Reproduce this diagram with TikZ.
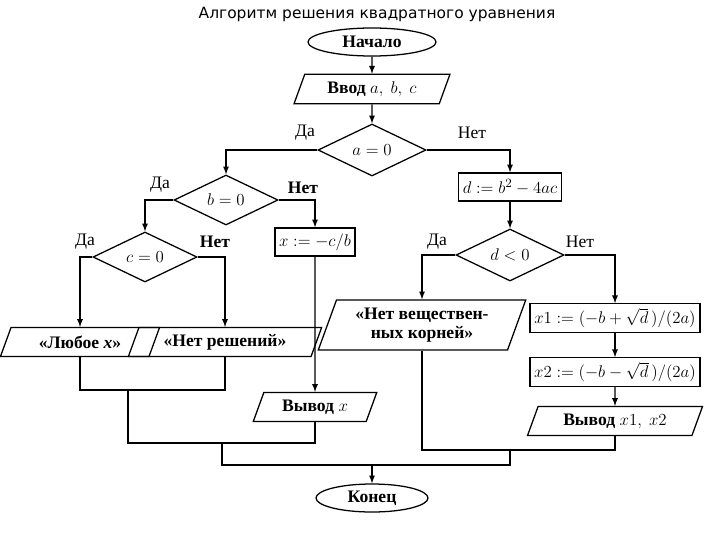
\documentclass[tikz,border=0pt]{standalone}
\usepackage{fontspec}
\setmainfont{Liberation Serif}
\newfontfamily\titlefont{DejaVu Sans}
\usepackage{tikz}
\usetikzlibrary{shapes.geometric,arrows,calc,positioning}

\begin{document}
\begin{tikzpicture}[x=0.025cm, y=-0.025cm, >=latex, line width=0.9pt,
	every node/.style={font=\fontsize{12.5}{14}\selectfont},
	term/.style={ellipse, draw, minimum width=3.2cm, minimum height=0.7cm, inner sep=1pt},
	io/.style={trapezium, trapezium left angle=70, trapezium right angle=110, draw, minimum height=0.72cm, inner sep=2pt},
	act/.style={rectangle, draw, minimum height=0.7cm, inner sep=3pt},
	cond/.style={diamond, draw, aspect=2.2, inner sep=1pt, minimum width=2.7cm, minimum height=1.3cm},
	lbl/.style={inner sep=1pt}]
\useasboundingbox (0,0) rectangle (720,540);
\node[font=\titlefont\fontsize{11}{13}\selectfont] (title) at (377,14) {Алгоритм решения квадратного уравнения};
\node[term] (start) at (372,42) {\textbf{Начало}};
\node[io, minimum width=3.9cm] (input) at (372,89) {\textbf{Ввод} $a,\ b,\ c$};
\node[cond] (ca) at (372,150) {$a=0$};
\node[cond, minimum width=2.6cm, minimum height=1.25cm] (cb) at (226,200) {$b=0$};
\node[cond, minimum width=2.6cm, minimum height=1.25cm] (cc) at (145,257) {$c=0$};
\node[act] (xcb) at (315,242) {$x:=-c/b$};
\node[act] (disc) at (510,187) {$d:=b^2-4ac$};
\node[cond] (cd) at (510,255) {$d<0$};
\node[io, minimum width=2.6cm] (any) at (80,342) {\textbf{«Любое \textit{x}»}};
\node[io, minimum width=3.5cm] (none) at (225,342) {\textbf{«Нет решений»}};
\node[io, minimum width=3.1cm] (outx) at (315,407) {\textbf{Вывод} $x$};
\node[io, align=center, minimum width=3.9cm, minimum height=1.25cm] (noreal) at (422,325) {\textbf{«Нет веществен-}\\\textbf{ных корней»}};
\node[act] (x1) at (615,318) {$x1:=(-b+\sqrt{d}\,)/(2a)$};
\node[act] (x2) at (615,372) {$x2:=(-b-\sqrt{d}\,)/(2a)$};
\node[io, minimum width=3.6cm] (outx12) at (615,421) {\textbf{Вывод} $x1,\ x2$};
\node[term, minimum width=2.8cm] (end) at (372,498) {\textbf{Конец}};
% labels
\node[lbl] (ya) at (305,133) {Да};
\node[lbl] (na) at (472,133) {Нет};
\node[lbl] (yb) at (160,185) {Да};
\node[lbl] (nb) at (303,188) {\textbf{Нет}};
\node[lbl] (yc) at (85,242) {Да};
\node[lbl] (nc) at (215,242) {\textbf{Нет}};
\node[lbl] (yd) at (437,242) {Да};
\node[lbl] (nd) at (580,242) {Нет};
% joints
\coordinate (j1) at (128,390);
\coordinate (j2) at (128,443);
\coordinate (j3) at (222,443);
\coordinate (j4) at (222,465);
\coordinate (j5) at (510,465);
\coordinate (j6) at (510,450);
\coordinate (j7) at (372,465);
% connectors
\draw[->] (start) -- (input);
\draw[->] (input) -- (ca);
\draw[->] (ca.west) -| (cb.north);
\draw[->] (ca.east) -| (disc.north);
\draw[->] (disc) -- (cd);
\draw[->] (cb.west) -| (cc.north);
\draw[->] (cb.east) -| (xcb.north);
\draw[->] (cc.west) -| (any.north);
\draw[->] (cc.east) -| (none.north);
\draw[->] (xcb) -- (outx);
\draw[->] (cd.west) -| (noreal.north);
\draw[->] (cd.east) -| (x1.north);
\draw[->] (x1) -- (x2);
\draw[->] (x2) -- (outx12);
\draw (any.south) |- (j1) -| (none.south);
\draw (j1) -- (j2) -| (outx.south);
\draw (noreal.south) |- (j6) -| (outx12.south);
\draw (j3) -- (j4) -- (j5) -- (j6);
\draw[->] (j7) -- (end);
\end{tikzpicture}
\end{document}
